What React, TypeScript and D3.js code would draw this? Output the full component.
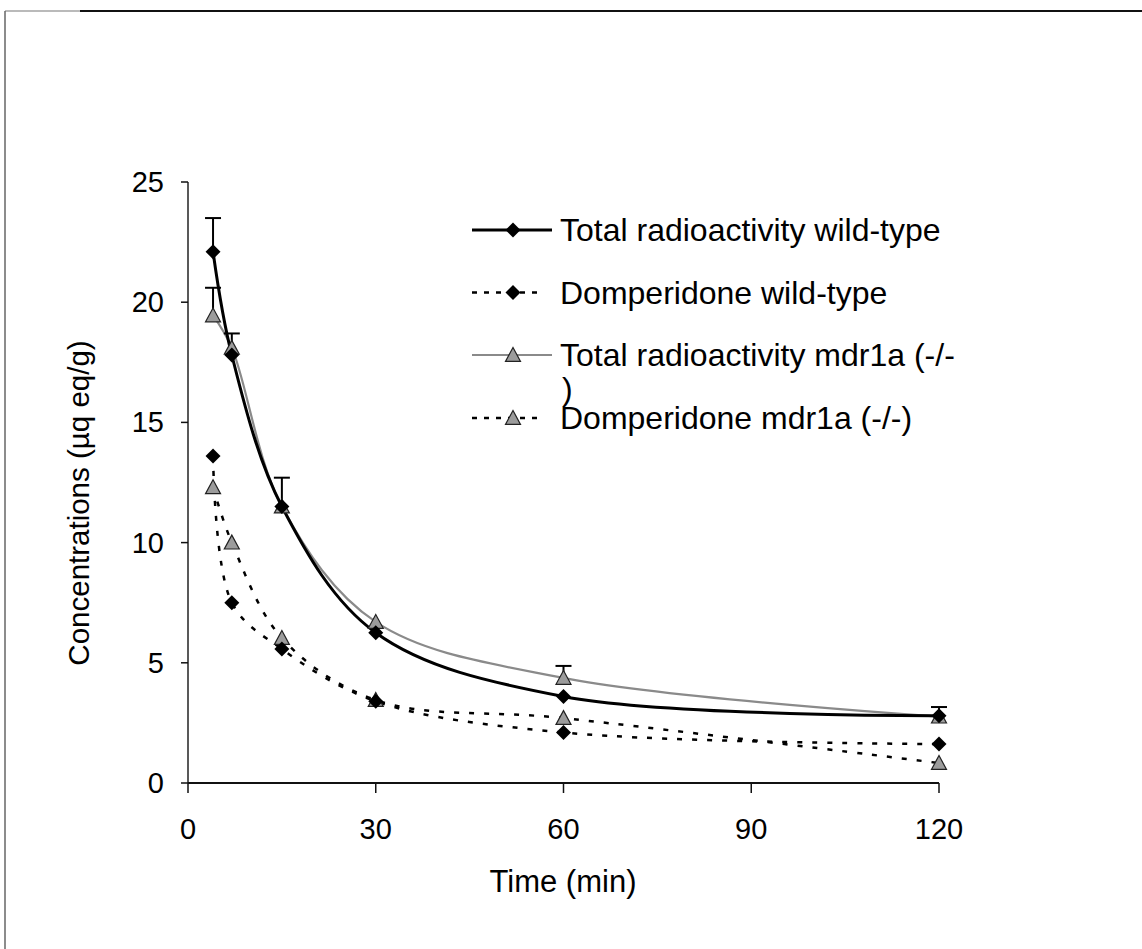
import React from 'react';
import * as d3 from 'd3';

// sampling times (min)
const times = [4, 7, 15, 30, 60, 120];

// concentrations (µg eq/g)
const totalWildType = [22.1, 17.8, 11.5, 6.25, 3.6, 2.8];
const domperidoneWildType = [13.6, 7.5, 5.57, 3.4, 2.1, 1.62];
const totalMdr1a = [19.45, 18.1, 11.5, 6.7, 4.37, 2.76];
const domperidoneMdr1a = [12.3, 10.0, 6.03, 3.45, 2.7, 0.83];

// upper error bars (SD), 0 = none drawn
const totalWildTypeErr = [1.4, 0, 0, 0, 0, 0];
const totalMdr1aErr = [1.15, 0.6, 1.2, 0, 0.5, 0.4];

const xTicks = [0, 30, 60, 90, 120];
const yTicks = [0, 5, 10, 15, 20, 25];

const legendLabels = [
  'Total radioactivity wild-type',
  'Domperidone wild-type',
  'Total radioactivity mdr1a (-/-',
  'Domperidone mdr1a (-/-)',
];

const W = 1142;
const H = 949;
const font = '"Liberation Sans", Arial, sans-serif';

type Series = {
  values: number[];
  err?: number[];
  stroke: string;
  width: number;
  dash?: string;
  marker: 'diamond' | 'triangle';
};

const series: Series[] = [
  { values: totalMdr1a, err: totalMdr1aErr, stroke: '#8a8a8a', width: 2.2, marker: 'triangle' },
  { values: totalWildType, err: totalWildTypeErr, stroke: '#000', width: 3, marker: 'diamond' },
  { values: domperidoneMdr1a, stroke: '#000', width: 2.5, dash: '5,10', marker: 'triangle' },
  { values: domperidoneWildType, stroke: '#000', width: 2.5, dash: '5,10', marker: 'diamond' },
];

const Marker = ({ kind, x, y }: { kind: string; x: number; y: number }) => {
  const r = 7.5;
  if (kind === 'diamond') {
    return <path d={`M${x},${y - r}L${x + r},${y}L${x},${y + r}L${x - r},${y}Z`} fill="#000" />;
  }
  return (
    <path
      d={`M${x},${y - r}L${x + r},${y + r * 0.85}L${x - r},${y + r * 0.85}Z`}
      fill="#9c9c9c"
      stroke="#222"
      strokeWidth={1.2}
    />
  );
};

export default function App() {
  const x = d3.scaleLinear().domain([0, 120]).range([188, 939]);
  const y = d3.scaleLinear().domain([0, 25]).range([783, 182]);

  const line = d3
    .line<number>()
    .x((_, i) => x(times[i]))
    .y((d) => y(d))
    .curve(d3.curveCatmullRom.alpha(0.5));

  const legendStyles = [series[1], series[3], series[0], series[2]];
  const legendY = [230, 292.5, 355, 418];
  const legendLineEnd = [552, 540, 552, 540];

  return (
    <svg
      width={W}
      height={H}
      style={{ position: 'absolute', left: 0, top: 0, background: '#fff' }}
      fontFamily={font}
    >
      <rect width={W} height={H} fill="#fff" />
      {/* outer frame */}
      <line x1={5} x2={80} y1={11} y2={11} stroke="#777" strokeWidth={1.2} />
      <line x1={80} x2={W} y1={11} y2={11} stroke="#111" strokeWidth={2} />
      <line x1={5} x2={5} y1={11} y2={H} stroke="#666" strokeWidth={1.5} />

      {/* axes */}
      <line x1={x(0)} x2={x(0)} y1={y(25)} y2={y(0)} stroke="#222" strokeWidth={1.5} />
      <line x1={x(0)} x2={x(120)} y1={y(0)} y2={y(0)} stroke="#111" strokeWidth={2} />
      {yTicks.map((t) => (
        <g key={`y${t}`}>
          <line x1={x(0) - 7} x2={x(0)} y1={y(t)} y2={y(t)} stroke="#111" strokeWidth={1.5} />
          <text x={164} y={y(t) + 10} textAnchor="end" fontSize={29} fill="#000">
            {t}
          </text>
        </g>
      ))}
      {xTicks.map((t) => (
        <g key={`x${t}`}>
          <line x1={x(t)} x2={x(t)} y1={y(0)} y2={y(0) + 10} stroke="#111" strokeWidth={1.5} />
          <text x={x(t)} y={839} textAnchor="middle" fontSize={29} fill="#000">
            {t}
          </text>
        </g>
      ))}
      <text x={563} y={892} textAnchor="middle" fontSize={31} fill="#000">
        Time (min)
      </text>
      <text
        transform="translate(89,503) rotate(-90)"
        textAnchor="middle"
        fontSize={29.5}
        fill="#000"
      >
        Concentrations (µq eq/g)
      </text>

      {/* curves */}
      {series.map((s, i) => (
        <path
          key={`l${i}`}
          d={line(s.values) || ''}
          fill="none"
          stroke={s.stroke}
          strokeWidth={s.width}
          strokeDasharray={s.dash}
        />
      ))}

      {/* error bars */}
      {series.map((s, i) =>
        (s.err || []).map((e, j) =>
          e > 0 ? (
            <g key={`e${i}-${j}`} stroke="#000" strokeWidth={2}>
              <line x1={x(times[j])} x2={x(times[j])} y1={y(s.values[j])} y2={y(s.values[j] + e)} />
              <line
                x1={x(times[j]) - 8}
                x2={x(times[j]) + 8}
                y1={y(s.values[j] + e)}
                y2={y(s.values[j] + e)}
              />
            </g>
          ) : null
        )
      )}

      {/* markers */}
      {series.map((s, i) =>
        s.values.map((v, j) => (
          <Marker key={`m${i}-${j}`} kind={s.marker} x={x(times[j])} y={y(v)} />
        ))
      )}

      {/* legend */}
      {legendLabels.map((label, i) => {
        const s = legendStyles[i];
        const ly = legendY[i];
        return (
          <g key={`lg${i}`}>
            <line
              x1={472}
              x2={legendLineEnd[i]}
              y1={ly}
              y2={ly}
              stroke={s.stroke}
              strokeWidth={s.width}
              strokeDasharray={s.dash ? '5,7' : undefined}
            />
            <Marker kind={s.marker} x={513} y={ly} />
            <text x={560} y={ly + 11} fontSize={32} fill="#000">
              {label}
            </text>
          </g>
        );
      })}
      {/* wrapped end of the third legend entry, as in the original */}
      <text x={562} y={400} fontSize={32} fill="#000">
        )
      </text>
    </svg>
  );
}
